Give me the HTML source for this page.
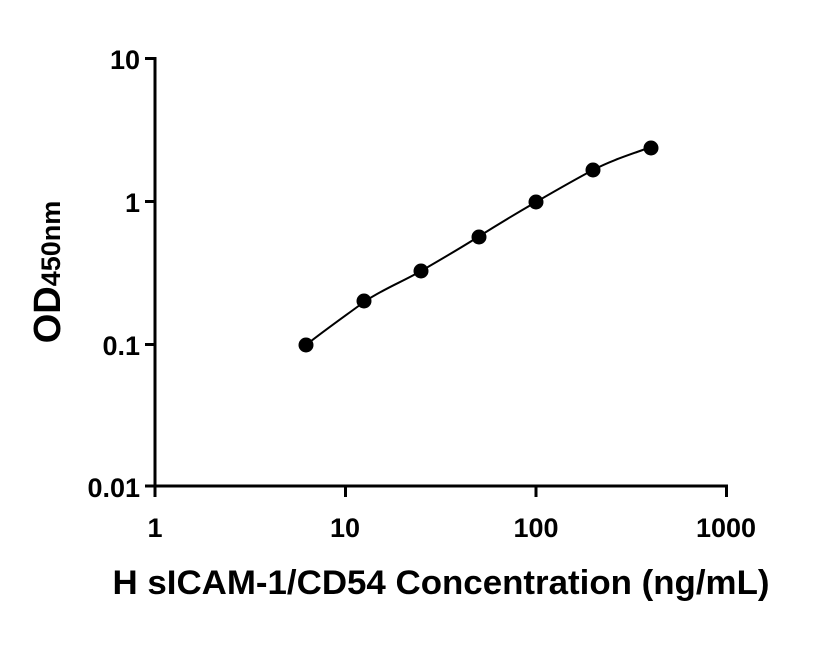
<!DOCTYPE html>
<html><head><style>body{margin:0;background:#fff}</style></head><body>
<svg width="816" height="640" xmlns="http://www.w3.org/2000/svg" font-family="Liberation Sans, Arial, sans-serif" font-weight="bold">
<g stroke="#000" stroke-width="3" fill="none">
<line x1="155" y1="57" x2="155" y2="487"/>
<line x1="145" y1="58.5" x2="156" y2="58.5"/>
<line x1="145" y1="201.5" x2="156" y2="201.5"/>
<line x1="145" y1="344.5" x2="156" y2="344.5"/>
<line x1="145" y1="486" x2="728" y2="486"/>
<line x1="155" y1="486" x2="155" y2="497"/>
<line x1="345.5" y1="486" x2="345.5" y2="497"/>
<line x1="536" y1="486" x2="536" y2="497"/>
<line x1="726.5" y1="486" x2="726.5" y2="497"/>
</g>
<path d="M306,345 C325,330 345,316 364,302 C383,289 402,282 421,271 C440,260 459,249 478,237 C497,225 517,213 536,202 C555,191 574,180 593,170 C612,160 632,154 651,147" stroke="#000" stroke-width="2" fill="none"/>
<g fill="#000">
<circle cx="306" cy="345" r="7.5"/><circle cx="364" cy="301" r="7.5"/><circle cx="421" cy="271" r="7.5"/>
<circle cx="479" cy="237" r="7.5"/><circle cx="536" cy="202" r="7.5"/><circle cx="593" cy="170" r="7.5"/><circle cx="651" cy="148" r="7.5"/>
</g>
<g font-size="27" text-anchor="end">
<text x="140" y="69">10</text><text x="140" y="212">1</text><text x="140" y="355">0.1</text><text x="140" y="497">0.01</text>
</g>
<g font-size="27" text-anchor="middle">
<text x="155" y="537">1</text><text x="345" y="537">10</text><text x="536" y="537">100</text><text x="726" y="537">1000</text>
</g>
<text x="441" y="594" font-size="34" text-anchor="middle" textLength="657" lengthAdjust="spacingAndGlyphs">H sICAM-1/CD54 Concentration (ng/mL)</text>
<text transform="translate(60,272) rotate(-90)" text-anchor="middle"><tspan font-size="38">OD</tspan><tspan font-size="27">450nm</tspan></text>
</svg>
</body></html>
